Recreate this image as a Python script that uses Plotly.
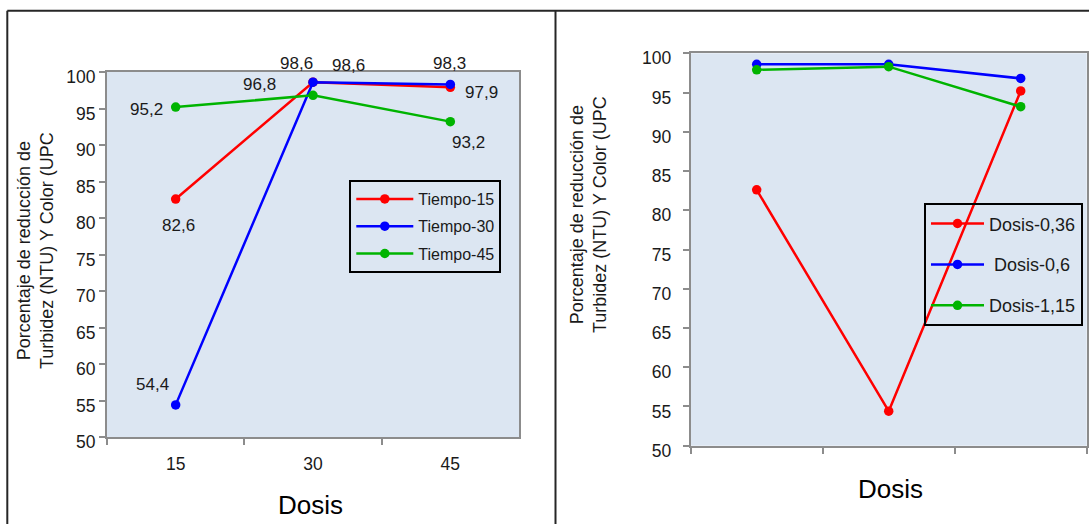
import plotly.graph_objects as go

# ---------------- data ----------------
dosis_cats = ["15", "30", "45"]
tiempo_15 = [82.6, 98.6, 97.9]
tiempo_30 = [54.4, 98.6, 98.3]
tiempo_45 = [95.2, 96.8, 93.2]
left_names = ["Tiempo-15", "Tiempo-30", "Tiempo-45"]

tiempo_cats = ["15", "30", "45"]
dosis_036 = [82.6, 54.4, 95.2]
dosis_06 = [98.6, 98.6, 96.8]
dosis_115 = [97.9, 98.3, 93.2]
right_names = ["Dosis-0,36", " Dosis-0,6", "Dosis-1,15"]

y_title = "Porcentaje de reducción de<br>Turbidez (NTU) Y Color (UPC"
x_title = "Dosis"

# ---------------- style ----------------
W, H = 1089, 524
FONT = "Liberation Sans, Arial, sans-serif"
COLORS = ["#ff0000", "#0000ff", "#00b400"]
AXC = "#8c8c8c"


def px(x):
    return x / W


def py(y):
    return 1 - y / H


fig = go.Figure()

left_series = [tiempo_15, tiempo_30, tiempo_45]
right_series = [dosis_036, dosis_06, dosis_115]

for name, vals, c in zip(left_names, left_series, COLORS):
    fig.add_trace(go.Scatter(
        x=dosis_cats, y=vals, name=name, mode="lines+markers",
        line=dict(color=c, width=2.5), marker=dict(color=c, size=9.5),
        xaxis="x", yaxis="y", legend="legend", legendgroup=name,
    ))

for name, vals, c in zip(right_names, right_series, COLORS):
    fig.add_trace(go.Scatter(
        x=tiempo_cats, y=vals, name=name, mode="lines+markers",
        line=dict(color=c, width=2.5), marker=dict(color=c, size=9.5),
        xaxis="x2", yaxis="y2", legend="legend2", legendgroup="r" + name,
    ))

# data labels on the left chart (offsets in pixels: dx, dy-up)
label_offsets = {
    (0, 0): (3, -26), (0, 1): (-17, 19), (0, 2): (31, -5),
    (1, 0): (-23, 20), (1, 1): (35, 17), (1, 2): (-1, 21),
    (2, 0): (-29, -2), (2, 1): (-54, 11), (2, 2): (18, -21),
}
annotations = []
for si, vals in enumerate(left_series):
    for pi, v in enumerate(vals):
        dx, dy = label_offsets[(si, pi)]
        annotations.append(dict(
            x=pi, y=v, xref="x", yref="y",
            text=f"{v:.1f}".replace(".", ","), showarrow=False,
            xanchor="center", yanchor="middle",
            xshift=dx, yshift=dy, font=dict(size=17, color="#1a1a1a"),
        ))

# axis titles
annotations += [
    dict(x=px(310), y=py(505), xref="paper", yref="paper", text=x_title,
         showarrow=False, font=dict(size=26, color="#000"),
         xanchor="center", yanchor="middle"),
    dict(x=px(890), y=py(489), xref="paper", yref="paper", text=x_title,
         showarrow=False, font=dict(size=26, color="#000"),
         xanchor="center", yanchor="middle"),
    dict(x=px(36), y=py(251), xref="paper", yref="paper", text=y_title,
         showarrow=False, textangle=-90, font=dict(size=18, color="#1a1a1a"),
         xanchor="center", yanchor="middle"),
    dict(x=px(589), y=py(215), xref="paper", yref="paper", text=y_title,
         showarrow=False, textangle=-90, font=dict(size=18, color="#1a1a1a"),
         xanchor="center", yanchor="middle"),
]

# panel borders
BC = "#262626"
shapes = [
    dict(type="line", xref="paper", yref="paper", x0=px(7.3), x1=1.0,
         y0=py(10.7), y1=py(10.7), line=dict(color=BC, width=2)),
    dict(type="line", xref="paper", yref="paper", x0=px(7.3), x1=px(7.3),
         y0=py(10.7), y1=0.0, line=dict(color=BC, width=2)),
    dict(type="line", xref="paper", yref="paper", x0=px(555.5), x1=px(555.5),
         y0=py(10.7), y1=0.0, line=dict(color=BC, width=2)),
]

common_x = dict(type="category", range=[-0.5, 2.5], tickson="boundaries",
                ticks="outside", ticklen=6, tickwidth=2, tickcolor=AXC,
                showline=True, linecolor=AXC, linewidth=2, mirror=True,
                showgrid=False, zeroline=False, fixedrange=True,
                automargin=False)
common_y = dict(range=[50, 100], tick0=50, dtick=5, ticks="outside",
                ticklen=6, tickwidth=2, tickcolor=AXC, showline=True,
                linecolor=AXC, linewidth=2, mirror=True, showgrid=False,
                zeroline=False, tickfont=dict(size=17.5, color="#1a1a1a"),
                ticklabelshift=5, automargin=False)

fig.update_layout(
    width=W, height=H, margin=dict(l=0, r=0, t=0, b=0, autoexpand=False),
    paper_bgcolor="white", plot_bgcolor="#dce6f2",
    font=dict(family=FONT, color="#000"),
    xaxis=dict(domain=[px(107), px(519)], anchor="y",
               categoryorder="array", categoryarray=dosis_cats,
               tickfont=dict(size=17.5, color="#1a1a1a"),
               ticklabelstandoff=10, **common_x),
    yaxis=dict(domain=[py(437), py(72)], anchor="x", **common_y),
    xaxis2=dict(domain=[px(690.7), px(1086.7)], anchor="y2",
                categoryorder="array", categoryarray=tiempo_cats,
                showticklabels=False, **common_x),
    yaxis2=dict(domain=[py(445.7), py(53.3)], anchor="x2",
                ticklabelstandoff=8, **common_y),
    legend=dict(x=px(349.3), y=py(180), xanchor="left", yanchor="top",
                bgcolor="rgba(0,0,0,0)", bordercolor="#000", borderwidth=2,
                font=dict(size=16, color="#1a1a1a"), tracegroupgap=3.5,
                itemwidth=57),
    legend2=dict(x=px(924), y=py(203.3), xanchor="left", yanchor="top",
                 bgcolor="rgba(0,0,0,0)", bordercolor="#000", borderwidth=2,
                 font=dict(size=18, color="#1a1a1a"), tracegroupgap=14.5,
                 itemwidth=53),
    showlegend=True,
    annotations=annotations,
    shapes=shapes,
)

fig.write_html("out.html")
